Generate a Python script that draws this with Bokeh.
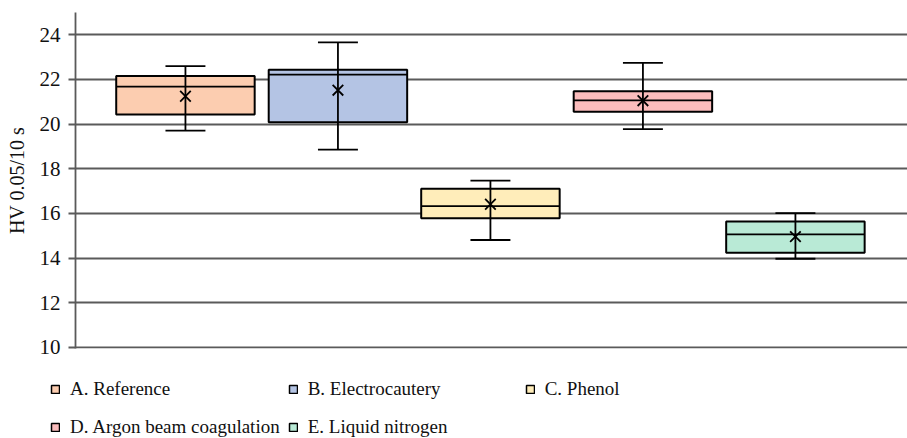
from bokeh.plotting import figure
from bokeh.layouts import column
from bokeh.models import ColumnDataSource, Legend, LegendItem, FixedTicker, Range1d
from bokeh.embed import file_html
from bokeh.resources import INLINE

groups = ["A. Reference", "B. Electrocautery", "C. Phenol",
          "D. Argon beam coagulation", "E. Liquid nitrogen"]
positions = [1, 2, 3, 4, 5]
whisker_low = [19.71, 18.86, 14.81, 19.78, 13.97]
q1 = [20.43, 20.08, 15.78, 20.55, 14.24]
median = [21.68, 22.22, 16.33, 21.06, 15.06]
q3 = [22.16, 22.44, 17.11, 21.47, 15.64]
whisker_high = [22.60, 23.66, 17.47, 22.74, 16.01]
means = [21.25, 21.52, 16.41, 21.05, 14.96]
colors = ["#FCCDB0", "#B4C4E4", "#FFEDBA", "#FBBCBC", "#B9EAD6"]
y_ticks = [10, 12, 14, 16, 18, 20, 22, 24]

box_w = 0.908
cap_w = 0.262

src = ColumnDataSource(dict(
    x=positions, group=groups, lo=whisker_low, q1=q1, med=median, q3=q3,
    hi=whisker_high, mean=means, color=colors,
    left=[p - box_w / 2 for p in positions], right=[p + box_w / 2 for p in positions],
    cl=[p - cap_w / 2 for p in positions], cr=[p + cap_w / 2 for p in positions],
))

FONT = "'Liberation Serif', 'Times New Roman', serif"
GRID = "#5a5a5a"
LW = 1.8

p = figure(width=907, height=359, x_range=Range1d(0.279, 5.735), y_range=Range1d(9.95, 25),
           output_backend="svg", toolbar_location=None, x_axis_location=None,
           min_border_left=75, min_border_right=0, min_border_top=12, min_border_bottom=11)
p.frame_align = False
p.outline_line_color = None
p.xgrid.visible = False
p.ygrid.grid_line_color = GRID
p.ygrid.grid_line_width = LW

yax = p.yaxis[0]
yax.ticker = FixedTicker(ticks=y_ticks)
yax.axis_line_color = GRID
yax.axis_line_width = LW
yax.major_tick_line_color = GRID
yax.major_tick_line_width = LW
yax.major_tick_out = 7
yax.major_tick_in = 0
yax.minor_tick_line_color = None
yax.major_label_text_font = FONT
yax.major_label_text_font_size = "21px"
yax.major_label_text_color = "#111111"
yax.major_label_standoff = 8
yax.axis_label = "HV 0.05/10 s"
yax.axis_label_text_font = FONT
yax.axis_label_text_font_size = "20px"
yax.axis_label_text_font_style = "normal"
yax.axis_label_text_color = "#111111"
yax.axis_label_standoff = 9

p.quad(left="left", right="right", bottom="q1", top="q3", source=src,
       fill_color="color", line_color="black", line_width=2)
p.segment(x0="x", x1="x", y0="lo", y1="hi", source=src, line_color="black", line_width=LW)
p.segment(x0="cl", x1="cr", y0="hi", y1="hi", source=src, line_color="black", line_width=LW)
p.segment(x0="cl", x1="cr", y0="lo", y1="lo", source=src, line_color="black", line_width=LW)
p.segment(x0="left", x1="right", y0="med", y1="med", source=src, line_color="black", line_width=LW)
p.scatter(x="x", y="mean", source=src, marker="x", size=15, line_color="black", line_width=LW)

# legend panel below the chart
lg = figure(width=907, height=79, x_range=Range1d(0, 1), y_range=Range1d(0, 1),
            output_backend="svg", toolbar_location=None,
            x_axis_location=None, y_axis_location=None,
            min_border_left=0, min_border_right=0, min_border_top=0, min_border_bottom=0)
lg.frame_align = False
lg.outline_line_color = None
lg.grid.visible = False
lsrc = ColumnDataSource(dict(color=colors, l=[5] * 5, r=[6] * 5, b=[5] * 5, t=[6] * 5))
swatches = lg.quad(left="l", right="r", bottom="b", top="t", source=lsrc,
                   fill_color="color", line_color="black", line_width=1.5)

items = [LegendItem(label=g, renderers=[swatches], index=i) for i, g in enumerate(groups)]
legend = Legend(items=items, location=(50, -4), orientation="horizontal", ncols=3,
                padding=0, margin=0, spacing=8, label_width=209, label_height=30,
                label_standoff=10, glyph_width=10, glyph_height=10,
                border_line_color=None, background_fill_alpha=0,
                label_text_font=FONT, label_text_font_size="19px", label_text_color="#111111")
lg.add_layout(legend, "center")

layout = column(p, lg, spacing=0)
open("out.html", "w").write(file_html(layout, INLINE))
